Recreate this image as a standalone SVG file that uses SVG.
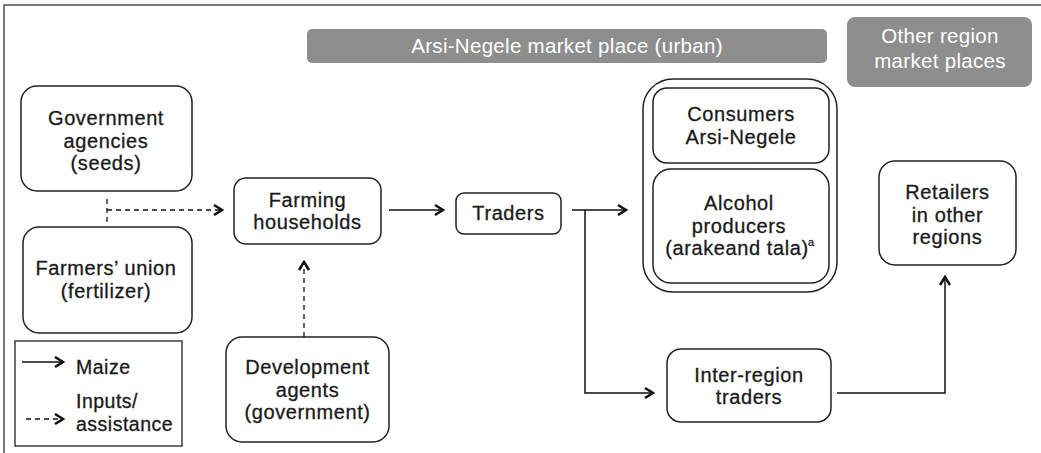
<svg xmlns="http://www.w3.org/2000/svg" width="1041" height="453" viewBox="0 0 1041 453">
<defs>
<style>
.box{fill:#fff;stroke:#222;stroke-width:1.5}
.t{font-family:"Liberation Sans",Arial,sans-serif;font-size:20px;letter-spacing:0.6px;fill:#1a1a1a;stroke:#1a1a1a;stroke-width:0.3;text-anchor:middle}
.lt{font-family:"Liberation Sans",Arial,sans-serif;font-size:19.5px;letter-spacing:0.5px;fill:#1a1a1a;stroke:#1a1a1a;stroke-width:0.3}
.bn{fill:#8e8e8e}
.bt{font-family:"Liberation Sans",Arial,sans-serif;font-size:20.5px;letter-spacing:0.3px;fill:#fff;text-anchor:middle}
.c{fill:none;stroke:#111;stroke-width:1.5}
.d{fill:none;stroke:#111;stroke-width:1.3;stroke-dasharray:5 4}
</style>
<marker id="ah" viewBox="-11 -7 13 14" markerWidth="13" markerHeight="14" refX="0" refY="0" orient="auto" markerUnits="userSpaceOnUse">
<path d="M-8,-5 L0,0 L-8,5" fill="none" stroke="#111" stroke-width="2.6"/>
</marker>
</defs>
<rect x="4" y="5" width="1060" height="470" fill="none" stroke="#333" stroke-width="1.3"/>
<g id="banner-arsi">
<rect class="bn" x="307" y="29" width="520" height="34" rx="5"/>
<text class="bt" x="567" y="53">Arsi-Negele market place (urban)</text>
</g>
<g id="banner-other">
<rect class="bn" x="847" y="17" width="185" height="70" rx="8"/>
<text class="bt" x="940" y="43">Other region</text>
<text class="bt" x="940" y="68">market places</text>
</g>
<g id="gov">
<rect class="box" x="21" y="86" width="171" height="105" rx="16"/>
<text class="t" x="106" y="125">Government</text>
<text class="t" x="106" y="147.5">agencies</text>
<text class="t" x="106" y="170">(seeds)</text>
</g>
<g id="union">
<rect class="box" x="23" y="227" width="169" height="106" rx="16"/>
<text class="t" x="106" y="275">Farmers’ union</text>
<text class="t" x="106" y="297.5">(fertilizer)</text>
</g>
<g id="legend">
<rect x="15" y="341" width="167" height="105" fill="#fff" stroke="#222" stroke-width="1.3"/>
<path class="c" d="M22,362 H63" marker-end="url(#ah)"/>
<text class="lt" x="76" y="374">Maize</text>
<path class="d" d="M26,419 H63" marker-end="url(#ah)"/>
<text class="lt" x="76" y="408">Inputs/</text>
<text class="lt" x="76" y="430.5">assistance</text>
</g>
<g id="farming">
<rect class="box" x="234" y="178" width="147" height="66" rx="12"/>
<text class="t" x="307.5" y="206.5">Farming</text>
<text class="t" x="307.5" y="229">households</text>
</g>
<g id="traders">
<rect class="box" x="456" y="193" width="105" height="41" rx="8"/>
<text class="t" x="508.5" y="220">Traders</text>
</g>
<g id="development">
<rect class="box" x="226" y="337" width="163" height="105" rx="16"/>
<text class="t" x="307.5" y="374">Development</text>
<text class="t" x="307.5" y="396.5">agents</text>
<text class="t" x="307.5" y="419">(government)</text>
</g>
<g id="urban-consumers">
<rect class="box" x="643" y="79" width="194" height="213" rx="30"/>
<g id="consumers">
<rect class="box" x="653" y="88" width="176" height="75" rx="14"/>
<text class="t" x="741" y="121">Consumers</text>
<text class="t" x="741" y="143.5">Arsi-Negele</text>
</g>
<g id="alcohol">
<rect class="box" x="653" y="169" width="176" height="114" rx="18"/>
<text class="t" x="739" y="210">Alcohol</text>
<text class="t" x="739" y="232.5">producers</text>
<text class="t" x="737" y="255">(arakeand tala)</text>
<text class="lt" x="808" y="246" style="font-size:11px">a</text>
</g>
</g>
<g id="retailers">
<rect class="box" x="879" y="161" width="137" height="104" rx="16"/>
<text class="t" x="947.5" y="199">Retailers</text>
<text class="t" x="947.5" y="221.5">in other</text>
<text class="t" x="947.5" y="244">regions</text>
</g>
<g id="inter">
<rect class="box" x="667" y="349" width="164" height="73" rx="14"/>
<text class="t" x="749" y="381.5">Inter-region</text>
<text class="t" x="749" y="404">traders</text>
</g>
<g id="connectors">
<path class="d" d="M107,199 V222"/>
<path class="d" d="M107,210 H222" marker-end="url(#ah)"/>
<path class="c" d="M389,210 H443" marker-end="url(#ah)"/>
<path class="d" d="M304,337 V262" marker-end="url(#ah)"/>
<path class="c" d="M572,210 H626" marker-end="url(#ah)"/>
<path class="c" d="M585,210 V393 H653" marker-end="url(#ah)"/>
<path class="c" d="M837,393 H945 V277" marker-end="url(#ah)"/>
</g>
</svg>
